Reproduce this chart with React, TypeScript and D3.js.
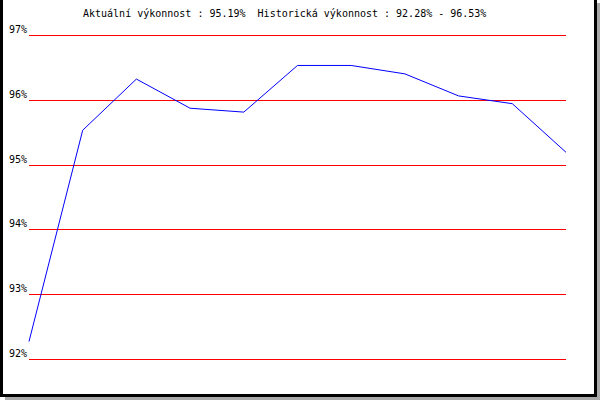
import React from 'react';
import * as d3 from 'd3';

// chart values
const points = [92.27, 95.53, 96.32, 95.87, 95.81, 96.53, 96.53, 96.40, 96.06, 95.94, 95.19];
const gridValues = [97, 96, 95, 94, 93, 92];
const titleText = 'Aktuální výkonnost : 95.19%  Historická výkonnost : 92.28% - 96.53%';

const W = 600;
const H = 400;
const font = '"DejaVu Sans Mono", monospace';

export default function App() {
    const x = d3.scaleLinear().domain([0, points.length - 1]).range([29, 566]);
    const y = d3.scaleLinear().domain([92, 97]).range([359, 35]);
    const line = d3.line<number>()
        .x((d, i) => x(i))
        .y(d => y(d));

    return (
        <svg width={W} height={H} style={{ position: 'absolute', left: 0, top: 0 }}>
            {/* shadow */}
            <rect x={597} y={3} width={3} height={397} fill="#a9a9a9" />
            <rect x={5} y={397} width={595} height={3} fill="#a9a9a9" />
            {/* frame */}
            <rect x={0} y={0} width={597} height={397} fill="#000" />
            <rect x={3} y={0} width={591} height={394} fill="#fff" />

            <text x={83} y={17} fontFamily={font} fontSize={10} fill="#000" style={{ whiteSpace: 'pre' }}>{titleText}</text>

            {gridValues.map(v => {
                const gy = Math.round(y(v)) + 0.5;
                return (
                    <g key={v}>
                        <line x1={29} x2={566} y1={gy} y2={gy} stroke="#ff0000" strokeWidth={1} />
                        <text x={27} y={gy - 3} textAnchor="end" fontFamily={font} fontSize={10} fill="#000">{v}%</text>
                    </g>
                );
            })}

            <path d={line(points) || ''} fill="none" stroke="#0000ff" strokeWidth={1} />
        </svg>
    );
}
